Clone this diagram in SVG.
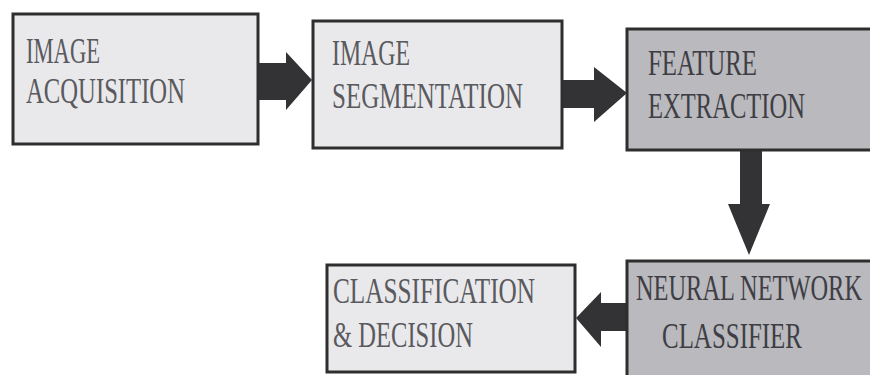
<svg xmlns="http://www.w3.org/2000/svg" width="870" height="375" viewBox="0 0 870 375">
<defs>
<style>
.light{fill:#e9e9ec;stroke:#2e2e2e;stroke-width:3}
.dark{fill:#b9b9be;stroke:#2e2e2e;stroke-width:3}
.t{font-family:"Liberation Serif","DejaVu Serif",serif;font-size:24.5px;fill:#5a5a5e}
.td{font-family:"Liberation Serif","DejaVu Serif",serif;font-size:24.5px;fill:#3e3e44}
.arr{fill:#333336}
</style>
</defs>
<rect width="870" height="375" fill="#ffffff"/>
<g id="connectors">
<polygon class="arr" points="256,63 286,63 286,52 312,80 286,110 286,100 256,100"/>
<polygon class="arr" points="561,80 594,80 594,67 627,93 594,122 594,108 561,108"/>
<polygon class="arr" points="740,149 762,149 762,204 770,204 749,255 728,204 740,204"/>
<polygon class="arr" points="629,303 601,303 601,292 576,318 601,347 601,331 629,331"/>
</g>
<g id="image-acquisition">
<rect class="light" x="13" y="14" width="245" height="130"/>
<text class="t" transform="translate(26,63) scale(1,1.45)" textLength="74" lengthAdjust="spacingAndGlyphs">IMAGE</text>
<text class="t" transform="translate(26,103) scale(1,1.45)" textLength="159" lengthAdjust="spacingAndGlyphs">ACQUISITION</text>
</g>
<g id="image-segmentation">
<rect class="light" x="313" y="21" width="249" height="127"/>
<text class="t" transform="translate(332,65) scale(1,1.45)" textLength="78" lengthAdjust="spacingAndGlyphs">IMAGE</text>
<text class="t" transform="translate(332,108) scale(1,1.45)" textLength="191" lengthAdjust="spacingAndGlyphs">SEGMENTATION</text>
</g>
<g id="feature-extraction">
<rect class="dark" x="627" y="29" width="245" height="121"/>
<text class="td" transform="translate(648,75) scale(1,1.45)" textLength="109" lengthAdjust="spacingAndGlyphs">FEATURE</text>
<text class="td" transform="translate(648,118) scale(1,1.45)" textLength="157" lengthAdjust="spacingAndGlyphs">EXTRACTION</text>
</g>
<g id="neural-network-classifier">
<rect class="dark" x="627" y="261" width="245" height="116"/>
<text class="td" transform="translate(636,300) scale(1,1.45)" textLength="226" lengthAdjust="spacingAndGlyphs">NEURAL NETWORK</text>
<text class="td" transform="translate(662,348) scale(1,1.45)" textLength="140" lengthAdjust="spacingAndGlyphs">CLASSIFIER</text>
</g>
<g id="classification-decision">
<rect class="light" x="327" y="265" width="248" height="107"/>
<text class="t" transform="translate(333,303) scale(1,1.45)" textLength="202" lengthAdjust="spacingAndGlyphs">CLASSIFICATION</text>
<text class="t" transform="translate(333,347) scale(1,1.45)" textLength="140" lengthAdjust="spacingAndGlyphs">&amp; DECISION</text>
</g>
</svg>
